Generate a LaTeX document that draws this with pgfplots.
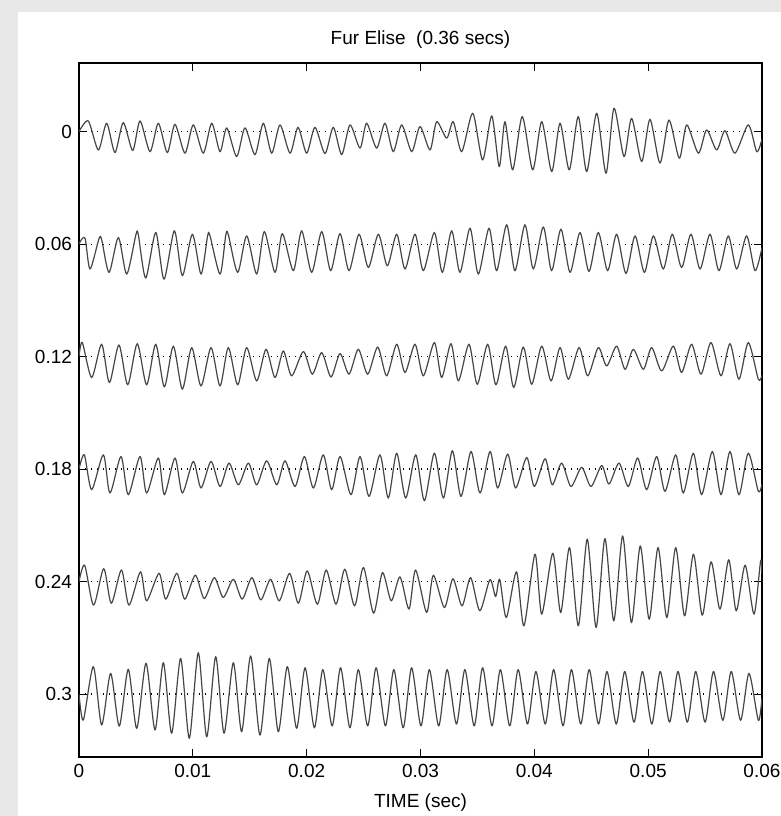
\documentclass[border=0pt]{standalone}
\usepackage{fontspec}
\setmainfont{Liberation Sans}
\usepackage{pgfplots}
\usepackage{pgfplotstable}
\pgfplotsset{compat=1.18}
\usetikzlibrary{calc,backgrounds}
\definecolor{bgray}{RGB}{232,232,232}
\definecolor{wavec}{RGB}{70,70,70}

% time in ms, amplitude in 1/1000 of the y unit
\pgfplotstableread[row sep=\\]{
t a\\
0 0\\ 0.82 -5.7\\ 1.70 9.8\\ 2.43 -4.5\\ 3.16 11.2\\ 3.89 -4.8\\ 4.72 10.1\\ 5.36 -5.7\\ 6.24 10.7\\ 6.97 -4.5\\
7.76 11.2\\ 8.43 -3.9\\ 9.31 11.5\\ 10.04 -3.6\\ 10.92 11.5\\ 11.66 -4.5\\ 12.39 10.7\\ 12.98 -2.0\\ 13.85 13.3\\
14.58 -2.0\\ 15.46 12.3\\ 16.19 -4.5\\ 16.93 11.5\\ 17.66 -3.6\\ 18.54 11.5\\ 19.24 -2.3\\ 20.00 11.5\\ 20.73 -2.3\\
21.61 11.7\\ 22.34 -2.3\\ 23.08 12.3\\ 23.81 -3.6\\ 24.69 8.8\\ 25.27 -4.5\\ 26.15 8.8\\ 26.88 -4.5\\ 27.61 10.7\\
28.35 -3.6\\ 29.23 10.7\\ 29.96 -2.7\\ 30.84 9.8\\ 31.42 -5.3\\ 32.30 3.5\\ 32.88 -5.3\\ 33.62 10.7\\ 34.59 -9.8\\
35.46 15.1\\ 36.26 -8.4\\ 36.92 18.7\\ 37.42 -5.3\\ 38.10 20.4\\ 38.94 -8.0\\ 39.86 20.4\\ 40.65 -5.3\\ 41.53 21.3\\
42.26 -4.5\\ 43.07 20.4\\ 43.86 -8.0\\ 44.60 21.3\\ 45.48 -9.8\\ 46.30 22.2\\ 47.00 -12.5\\ 47.88 13.3\\ 48.55 -7.1\\
49.43 16.0\\ 50.16 -6.6\\ 51.04 16.8\\ 51.83 -6.2\\ 52.74 14.2\\ 53.39 -3.6\\ 54.41 11.5\\ 55.14 -0.9\\ 56.02 9.8\\
56.75 -0.5\\ 57.63 11.5\\ 58.80 -3.6\\ 59.54 10.7\\ 60.00 4.0\\
}\rowa

\pgfplotstableread[row sep=\\]{
t a\\
0 0\\ 0.25 -2.7\\ 0.55 -2.7\\ 0.97 13.3\\ 1.75 -2.7\\ 1.99 -2.4\\ 2.64 15.1\\ 3.46 -3.5\\ 4.19 16.0\\ 5.00 -5.0\\
5.21 -5.0\\ 5.86 18.1\\ 6.74 -6.2\\ 7.47 18.7\\ 8.38 -7.1\\ 9.08 16.9\\ 9.96 -5.3\\ 10.72 16.0\\ 11.30 -4.4\\
11.51 -4.4\\ 12.39 16.0\\ 12.90 -5.0\\ 13.12 -5.0\\ 13.94 15.1\\ 14.73 -4.4\\ 15.61 16.0\\ 16.28 -6.7\\ 17.22 15.1\\
17.86 -5.6\\ 18.83 14.2\\ 19.56 -7.1\\ 20.44 15.1\\ 21.32 -6.7\\ 22.11 14.2\\ 22.93 -5.6\\ 23.72 14.2\\ 24.60 -5.3\\
25.42 12.5\\ 26.30 -5.3\\ 27.09 11.6\\ 27.91 -5.3\\ 28.64 13.3\\ 29.52 -5.3\\
30.25 14.2\\ 31.22 -6.2\\ 31.92 15.1\\ 32.74 -7.1\\ 33.47 15.1\\ 34.35 -8.5\\ 35.08 16.0\\ 36.02 -8.5\\ 36.69 14.2\\
37.57 -10.3\\ 38.30 14.2\\ 39.18 -10.3\\ 39.91 13.3\\ 40.79 -9.2\\ 41.52 14.2\\ 42.34 -8.0\\ 43.14 15.1\\ 44.01 -6.2\\
44.80 14.6\\ 45.62 -6.2\\ 46.44 14.2\\ 47.23 -5.3\\ 48.05 15.7\\ 48.85 -4.4\\ 49.67 15.1\\ 50.46 -4.4\\ 51.33 13.3\\
52.12 -5.3\\ 52.94 12.5\\ 53.76 -5.3\\ 54.56 13.3\\ 55.43 -5.3\\ 56.22 14.2\\ 57.04 -4.4\\ 57.78 13.3\\ 58.65 -4.4\\
59.39 14.2\\ 60.00 2.0\\
}\rowb

\pgfplotstableread[row sep=\\]{
t a\\
0 0\\ 0.29 -7.5\\ 1.11 11.2\\ 1.99 -6.6\\ 2.67 13.9\\ 3.51 -6.2\\ 4.28 15.1\\ 5.12 -6.9\\ 5.94 15.1\\ 6.74 -6.6\\
7.50 16.2\\ 8.29 -5.6\\ 9.08 17.4\\ 9.90 -4.8\\ 10.72 15.7\\ 11.60 -4.8\\ 12.39 15.7\\ 13.12 -4.8\\ 13.94 15.1\\
14.73 -4.8\\ 15.61 13.0\\ 16.43 -3.9\\ 17.22 11.2\\ 17.95 -3.0\\ 18.68 10.3\\ 19.71 -2.7\\ 20.50 9.4\\ 21.32 -2.1\\
22.14 10.9\\ 22.93 -1.6\\ 23.72 9.4\\ 24.54 -3.9\\ 25.36 9.4\\ 26.24 -5.1\\ 27.03 10.3\\ 27.91 -6.6\\ 28.64 8.5\\
29.52 -6.6\\
30.25 10.3\\ 31.22 -7.5\\ 31.86 11.2\\ 32.68 -6.9\\ 33.33 13.0\\ 34.26 -6.6\\ 34.99 14.8\\ 35.90 -6.6\\ 36.63 15.1\\
37.48 -5.6\\ 38.19 16.5\\ 39.03 -5.1\\ 39.77 14.8\\ 40.65 -5.6\\ 41.47 13.0\\ 42.26 -4.8\\ 42.99 12.1\\ 43.93 -4.8\\
44.69 10.3\\ 45.62 -4.8\\ 46.36 5.0\\ 47.23 -5.6\\ 47.97 6.8\\ 48.70 -3.9\\ 49.58 6.8\\ 50.31 -4.8\\ 51.19 7.7\\
52.21 -5.6\\ 52.94 8.5\\ 53.82 -6.6\\ 54.64 9.4\\ 55.52 -7.5\\ 56.40 10.3\\ 57.19 -6.9\\ 57.98 12.1\\ 58.80 -7.5\\
59.68 12.1\\ 60.00 10.0\\
}\rowc

\pgfplotstableread[row sep=\\]{
t a\\
0 0\\ 0.47 -7.6\\ 1.11 11.0\\ 2.14 -7.6\\ 2.72 12.8\\ 3.69 -6.7\\ 4.33 13.7\\ 5.36 -6.7\\ 5.94 12.8\\ 6.97 -5.9\\
7.50 13.7\\ 8.43 -5.9\\ 9.08 12.8\\ 10.04 -4.1\\ 10.72 10.1\\ 11.60 -4.1\\ 12.39 9.3\\ 13.18 -3.2\\ 14.00 8.4\\
14.88 -3.2\\ 15.61 8.4\\ 16.49 -4.4\\ 17.37 8.4\\ 18.10 -4.4\\ 18.98 9.3\\ 19.80 -6.7\\ 20.59 10.1\\ 21.46 -7.6\\
22.20 11.0\\ 22.94 -6.7\\ 23.89 13.7\\ 24.69 -6.7\\ 25.48 14.6\\ 26.44 -7.6\\ 27.17 15.5\\ 27.91 -8.5\\ 28.70 15.5\\
29.58 -7.6\\
30.34 16.9\\ 31.22 -8.5\\ 32.01 15.5\\ 32.80 -9.8\\ 33.56 14.6\\ 34.44 -9.4\\ 35.23 12.8\\ 36.11 -9.4\\ 36.78 10.1\\
37.66 -8.0\\ 38.36 10.1\\ 39.33 -6.2\\ 40.00 9.3\\ 40.94 -5.5\\ 41.58 8.4\\ 42.40 -3.2\\ 43.22 9.3\\ 44.16 -0.9\\
44.98 9.3\\ 45.92 -1.9\\ 46.56 8.0\\ 47.44 -3.2\\ 48.26 9.3\\ 49.08 -5.9\\ 49.87 11.0\\ 50.75 -6.7\\ 51.48 11.9\\
52.42 -7.6\\ 53.09 12.8\\ 53.97 -8.5\\ 54.70 13.7\\ 55.64 -9.4\\ 56.40 13.7\\ 57.19 -9.4\\ 57.98 13.7\\ 58.80 -8.5\\
59.68 11.9\\ 60.00 8.0\\
}\rowd

\pgfplotstableread[row sep=\\]{
t a\\
0 0\\ 0.50 -8.7\\ 1.28 12.6\\ 2.17 -6.9\\ 2.84 11.6\\ 3.73 -6.2\\ 4.39 12.6\\ 5.40 -5.2\\ 5.94 10.3\\ 7.03 -4.4\\
7.62 9.4\\ 8.59 -4.4\\ 9.29 9.4\\ 10.22 -3.4\\ 11.00 9.1\\ 11.89 -2.1\\ 12.67 8.5\\ 13.56 -1.2\\ 14.34 9.4\\
15.19 -2.1\\ 15.97 9.8\\ 16.83 -1.2\\ 17.60 10.3\\ 18.50 -4.4\\ 19.27 11.6\\ 20.05 -5.7\\ 20.94 12.1\\ 21.72 -6.2\\
22.58 12.1\\ 23.35 -6.6\\ 24.21 13.0\\ 24.99 -7.5\\ 25.88 16.9\\ 26.66 -4.8\\ 27.43 10.3\\ 28.20 -2.5\\ 28.99 14.7\\
29.57 -6.2\\ 30.54 16.5\\ 31.13 -3.4\\ 32.10 13.9\\ 32.85 -1.5\\ 33.65 13.0\\ 34.40 -2.1\\ 35.21 15.6\\ 36.10 -1.0\\
36.60 8.0\\ 36.96 -1.2\\ 37.54 19.2\\ 38.43 -5.2\\ 39.09 23.6\\ 40.06 -14.6\\ 40.65 17.4\\ 41.62 -15.1\\ 42.32 16.5\\
43.09 -18.1\\ 43.87 23.6\\ 44.65 -22.6\\ 45.43 24.5\\ 46.20 -22.9\\ 46.98 21.0\\ 47.76 -24.3\\ 48.53 21.9\\
49.31 -19.0\\ 50.09 20.1\\ 50.87 -18.1\\ 51.64 19.2\\ 52.42 -18.1\\ 53.20 18.3\\ 53.98 -14.6\\ 54.75 17.9\\
55.53 -10.5\\ 56.31 14.7\\ 57.08 -11.6\\ 57.74 15.6\\ 58.52 -8.7\\ 59.30 17.4\\ 59.88 -11.0\\ 60.00 -4.0\\
}\rowe

\pgfplotstableread[row sep=\\]{
t a\\
0 0\\ 0.38 13.9\\ 1.26 -14.6\\ 1.99 16.5\\ 2.78 -11.0\\ 3.54 17.1\\ 4.33 -13.2\\ 5.07 18.3\\ 5.89 -16.4\\ 6.68 19.2\\
7.41 -16.7\\ 8.14 20.9\\ 8.93 -19.0\\ 9.69 23.6\\ 10.48 -22.0\\ 11.22 22.8\\ 12.01 -19.9\\ 12.74 20.9\\ 13.56 -16.7\\
14.29 20.1\\ 15.08 -20.3\\ 15.90 21.9\\ 16.72 -19.0\\ 17.51 20.1\\ 18.30 -14.6\\ 19.12 18.3\\
19.86 -14\\ 20.68 18\\ 21.42 -13\\ 22.24 17\\ 22.98 -14\\ 23.80 18\\ 24.54 -13\\ 25.36 17\\ 26.10 -14\\ 26.92 17\\
27.66 -13\\ 28.48 18\\ 29.22 -14\\ 30.04 17\\ 30.78 -13\\ 31.60 17\\ 32.34 -13\\ 33.16 16\\ 33.90 -13\\ 34.72 17\\
35.46 -14\\ 36.28 17\\ 37.02 -13\\ 37.84 17\\ 38.58 -13\\ 39.40 16\\ 40.14 -12\\ 40.96 16\\ 41.70 -13\\ 42.52 17\\
43.26 -13\\ 44.08 16\\ 44.82 -13\\ 45.64 16\\ 46.38 -12\\ 47.20 16\\ 47.94 -12\\ 48.76 15\\ 49.50 -12\\ 50.32 16\\
51.06 -12\\ 51.88 15\\ 52.62 -12\\ 53.44 15\\ 54.18 -12\\ 55.00 15\\ 55.74 -12\\ 56.56 14\\ 57.30 -12\\ 58.12 14\\
58.86 -11\\ 59.68 14\\ 60.00 2\\
}\rowf

\begin{document}
\begin{tikzpicture}
\begin{axis}[
    name=ax,
    scale only axis,
    width=341.5pt, height=347pt,
    xmin=0, xmax=60,
    ymin=-36.6, ymax=333.6,
    y dir=reverse,
    xtick={0,10,20,30,40,50,60},
    xticklabels={0,0.01,0.02,0.03,0.04,0.05,0.06},
    ytick={0,60,120,180,240,300},
    yticklabels={0,0.06,0.12,0.18,0.24,0.3},
    title={Fur Elise~ (0.36 secs)},
    xlabel={TIME (sec)},
    font=\fontsize{9.5}{11}\selectfont,
    /pgf/number format/assume math mode=true,
    axis line style={line width=0.6pt},
    tick style={line width=0.5pt, black},
    major tick length=4pt,
    tick align=inside,
    xlabel style={yshift=-1pt},
    title style={yshift=-2pt},
    wave/.style={color=wavec, line width=0.6pt, line join=round, smooth, tension=0.45},
    center/.style={black, line width=0.6pt, dash pattern=on 0.5pt off 2.5pt},
]
\addplot[center] coordinates {(0,0) (60,0)};
\addplot[center] coordinates {(0,60) (60,60)};
\addplot[center] coordinates {(0,120) (60,120)};
\addplot[center] coordinates {(0,180) (60,180)};
\addplot[center] coordinates {(0,240) (60,240)};
\addplot[center] coordinates {(0,300) (60,300)};

\addplot[wave] table[x=t, y expr=\thisrow{a}] {\rowa};
\addplot[wave] table[x=t, y expr=\thisrow{a}+60] {\rowb};
\addplot[wave] table[x=t, y expr=\thisrow{a}+120] {\rowc};
\addplot[wave] table[x=t, y expr=\thisrow{a}+180] {\rowd};
\addplot[wave] table[x=t, y expr=\thisrow{a}+240] {\rowe};
\addplot[wave] table[x=t, y expr=\thisrow{a}+300] {\rowf};
\end{axis}
\pgfresetboundingbox
\begin{scope}[on background layer]
\fill[bgray] ($(ax.south west)+(-39.5pt,-29.5pt)$) rectangle ++(390.5pt,408pt);
\fill[white] ($(ax.south west)+(-30.5pt,-29.5pt)$) rectangle ($(ax.south west)+(351pt,372.5pt)$);
\end{scope}
\path[use as bounding box] ($(ax.south west)+(-39.5pt,-29.5pt)$) rectangle ++(390.5pt,408pt);
\end{tikzpicture}
\end{document}
